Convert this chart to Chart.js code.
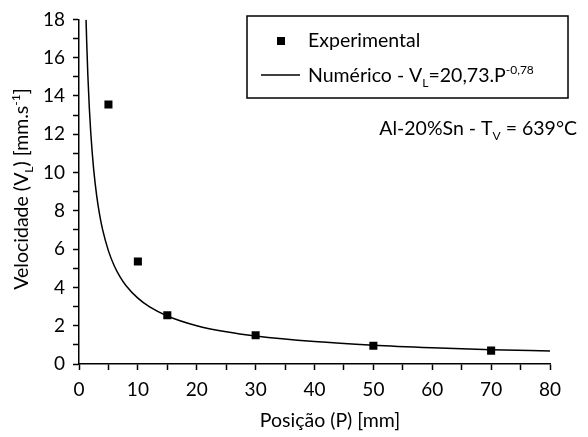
<!DOCTYPE html>
<html>
<head>
<meta charset="utf-8">
<script src="https://cdn.jsdelivr.net/npm/chart.js@4.4.0/dist/chart.umd.min.js"></script>
<style>
  html, body { margin: 0; background: #fff; }
</style>
</head>
<body>
<canvas id="velChart" width="588" height="437"></canvas>
<script>
// Experimental points (posição mm, velocidade mm/s)
const expP = [5, 10, 15, 30, 50, 70];
const expV = [13.55, 5.35, 2.55, 1.5, 0.95, 0.7];

// Numerical curve
const numP = [1.2, 1.3, 1.5, 1.75, 2, 2.5, 3, 3.5, 4, 5, 6, 7, 8, 10, 12, 15, 20, 25, 30, 40, 50, 60, 70, 80];
const numV = [17.98, 16.89, 15.11, 13.40, 12.07, 10.14, 8.80, 7.80, 7.03, 5.91, 5.12, 4.54, 4.09, 3.44, 2.98, 2.51, 2.00, 1.68, 1.46, 1.17, 0.98, 0.85, 0.75, 0.68];

const xMin = 0, xMax = 80, xStep = 5, xLabelEvery = 10;
const yMin = 0, yMax = 18, yStep = 1, yLabelEvery = 2;

const legendExp = [['Experimental', 'n']];
const legendNum = [['Numérico - V', 'n'], ['L', 'sub'], ['=20,73.P', 'n'], ['-0,78', 'sup']];
const annotation = [['Al-20%Sn - T', 'n'], ['V', 'sub'], [' = 639°C', 'n']];
const yTitle = [['Velocidade (V', 'n'], ['L', 'sub'], [') [mm.s', 'n'], ['-1', 'sup'], [']', 'n']];
const xTitle = [['Posição (P) [mm]', 'n']];

const FONT = 'Lato, "Open Sans", sans-serif';

function drawRich(ctx, parts, x, y, align) {
    const fontOf = k => (k === 'n' ? '19.5px ' : '12px ') + FONT;
    let total = 0;
    parts.forEach(([t, k]) => { ctx.font = fontOf(k); total += ctx.measureText(t).width; });
    let cx = align === 'right' ? x - total : align === 'center' ? x - total / 2 : x;
    ctx.textAlign = 'left';
    ctx.textBaseline = 'middle';
    parts.forEach(([t, k]) => {
        ctx.font = fontOf(k);
        const dy = k === 'sub' ? 7 : k === 'sup' ? -6 : 0;
        ctx.fillText(t, cx, y + dy);
        cx += ctx.measureText(t).width;
    });
}

const decorations = {
    id: 'decorations',
    afterDraw(chart) {
        const ctx = chart.ctx;
        ctx.save();
        ctx.fillStyle = '#000';
        ctx.strokeStyle = '#000';

        // legend box
        ctx.lineWidth = 1.5;
        ctx.strokeRect(247, 16, 321, 82);
        ctx.fillRect(277, 37, 8, 8);
        ctx.beginPath();
        ctx.moveTo(261, 75);
        ctx.lineTo(300, 75);
        ctx.stroke();
        drawRich(ctx, legendExp, 308, 41, 'left');
        drawRich(ctx, legendNum, 308, 76, 'left');

        // annotation
        drawRich(ctx, annotation, 577, 129, 'right');

        // x axis title
        drawRich(ctx, xTitle, 330, 421, 'center');

        // y axis title
        ctx.translate(22, 189);
        ctx.rotate(-Math.PI / 2);
        drawRich(ctx, yTitle, 0, 0, 'center');
        ctx.restore();
    }
};

const ctx = document.getElementById('velChart').getContext('2d');
new Chart(ctx, {
    type: 'scatter',
    data: {
        datasets: [
            {
                label: 'Experimental',
                data: expP.map((p, i) => ({ x: p, y: expV[i] })),
                pointStyle: 'rect',
                pointRadius: 5.7,
                pointBorderWidth: 0,
                backgroundColor: '#000',
                borderColor: '#000',
                order: 0
            },
            {
                label: 'Numérico',
                data: numP.map((p, i) => ({ x: p, y: numV[i] })),
                showLine: true,
                pointRadius: 0,
                borderColor: '#000',
                borderWidth: 1.5,
                cubicInterpolationMode: 'monotone',
                order: 1
            }
        ]
    },
    options: {
        responsive: false,
        animation: false,
        layout: { padding: { left: 0, top: 16, right: 38, bottom: 0 } },
        plugins: { legend: { display: false }, tooltip: { enabled: false } },
        scales: {
            x: {
                type: 'linear',
                min: xMin, max: xMax,
                afterFit: s => { s.height = 73; },
                border: { color: '#000', width: 1.5 },
                grid: { drawOnChartArea: false, tickLength: 6, tickColor: '#000', tickWidth: 1.5 },
                ticks: {
                    stepSize: xStep, autoSkip: false, maxRotation: 0, padding: 8,
                    color: '#000', font: { family: FONT, size: 19 },
                    callback: v => (v % xLabelEvery === 0 ? String(v) : '')
                }
            },
            y: {
                min: yMin, max: yMax,
                afterFit: s => { s.width = 79; },
                border: { color: '#000', width: 1.5 },
                grid: { drawOnChartArea: false, tickLength: 6, tickColor: '#000', tickWidth: 1.5 },
                ticks: {
                    stepSize: yStep, autoSkip: false, padding: 8,
                    color: '#000', font: { family: FONT, size: 19 },
                    callback: v => (v % yLabelEvery === 0 ? String(v) : '')
                }
            }
        }
    },
    plugins: [decorations]
});
</script>
</body>
</html>
